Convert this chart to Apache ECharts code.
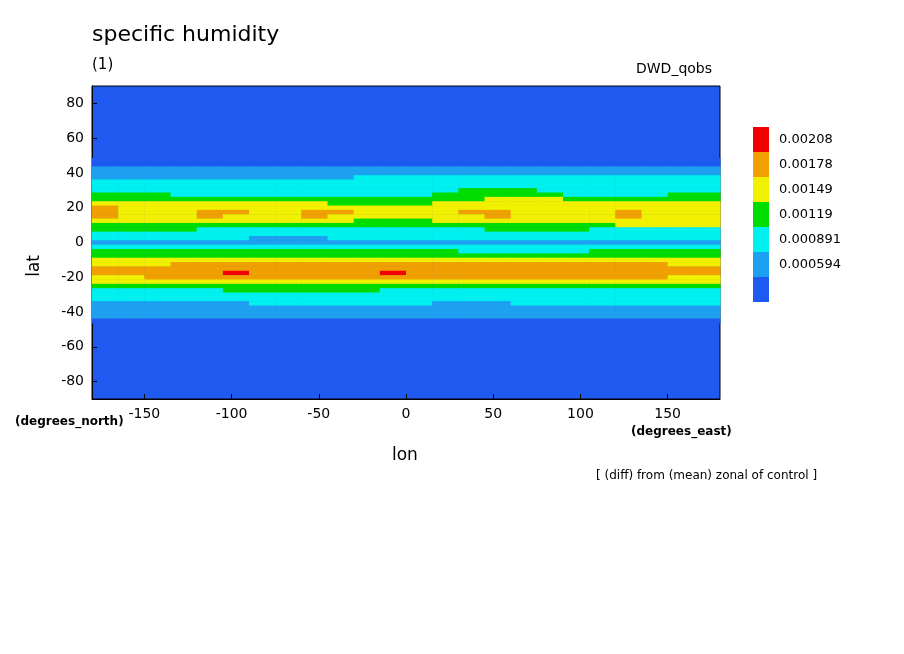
<!DOCTYPE html>
<html><head><meta charset="utf-8">
<script src="https://cdn.jsdelivr.net/npm/echarts@6/dist/echarts.min.js"></script>
<style>html,body{margin:0;background:#fff}#c{width:904px;height:654px}</style>
</head><body><div id="c"></div>
<script>
// level index: 0 <0.000594, 1 .000594-.000891, 2 -.00119, 3 -.00149, 4 -.00178, 5 -.00208, 6 >.00208
const levelTicks = ['0.000594', '0.000891', '0.00119', '0.00149', '0.00178', '0.00208'];
const levelColors = ['#1e5af0', '#1ea0f0', '#00f0f0', '#00dc00', '#f0f000', '#f0a000', '#f00000'];
const lonStart = -180, lonStep = 15;
const latRows = [47.5, 45, 42.5, 40, 37.5, 35, 32.5, 30, 27.5, 25, 22.5, 20, 17.5, 15, 12.5, 10, 7.5, 5, 2.5, 0,
  -2.5, -5, -7.5, -10, -12.5, -15, -17.5, -20, -22.5, -25, -27.5, -30, -32.5, -35, -37.5, -40, -42.5, -45];
const bandRows = [
  '000000000000000000000000',
  '000000000000000000000000',
  '111111111111111111111111',
  '111111111111111111111111',
  '111111111122222222222222',
  '222222222222222222222222',
  '222222222222222222222222',
  '222222222222223332222222',
  '333222222222233333222233',
  '333333333333333444333333',
  '444444444333344444444444',
  '544444444444444444444444',
  '544455445544445544445444',
  '544454445444444544445444',
  '444444444433344444444444',
  '333333333333333333334444',
  '333322222222222333322222',
  '222222222222222222222222',
  '222222111222222222222222',
  '111111111111111111111111',
  '222222222222222222222222',
  '333333333333332222233333',
  '333333333333333333333333',
  '444444444444444444444444',
  '444555555555555555555544',
  '555555555555555555555555',
  '555556555556555555555555',
  '445555555555555555555544',
  '444444444444444444444444',
  '333333333333333333333333',
  '222223333332222222222222',
  '222222222222222222222222',
  '222222222222222222222222',
  '111111222222211122222222',
  '111111111111111111111111',
  '111111111111111111111111',
  '111111111111111111111111',
  '000000000000000000000000'
];

const cells = [];
latRows.forEach((lat, r) => {
  bandRows[r].split('').forEach((ch, c) => cells.push([lonStart + c * lonStep, lat, +ch]));
});

const chart = echarts.init(document.getElementById('c'));
const axisText = { color: '#000', fontSize: 14, fontFamily: 'DejaVu Sans' };
chart.setOption({
  animation: false,
  grid: { left: 92, top: 86, width: 628, height: 313, show: true, backgroundColor: levelColors[0], borderColor: '#000', borderWidth: 1 },
  xAxis: {
    type: 'value', min: -180, max: 180,
    axisLine: { onZero: false, lineStyle: { color: '#000' } }, splitLine: { show: false },
    axisTick: { inside: true, customValues: [-150, -100, -50, 0, 50, 100, 150] },
    axisLabel: Object.assign({ customValues: [-150, -100, -50, 0, 50, 100, 150] }, axisText)
  },
  yAxis: {
    type: 'value', min: -90, max: 90,
    axisLine: { onZero: false, lineStyle: { color: '#000' } }, splitLine: { show: false },
    axisTick: { inside: true, customValues: [-80, -60, -40, -20, 0, 20, 40, 60, 80] },
    axisLabel: Object.assign({ customValues: [-80, -60, -40, -20, 0, 20, 40, 60, 80] }, axisText)
  },
  visualMap: {
    type: 'piecewise', dimension: 2, seriesIndex: 0,
    left: 738, top: 112, itemWidth: 16, itemHeight: 25, itemGap: 0, align: 'left',
    itemSymbol: 'rect', selectedMode: false,
    textStyle: { color: '#000', fontSize: 13, fontFamily: 'DejaVu Sans' },
    pieces: levelColors.map((col, i) => ({ value: i, color: col, label: i === 0 ? ' ' : levelTicks[i - 1] })).reverse()
  },
  series: [{
    type: 'custom',
    data: cells,
    renderItem: function (params, api) {
      const p0 = api.coord([api.value(0), api.value(1) + 1.25]);
      const p1 = api.coord([api.value(0) + lonStep, api.value(1) - 1.25]);
      return { type: 'rect', shape: { x: p0[0], y: p0[1], width: p1[0] - p0[0] + 0.5, height: p1[1] - p0[1] + 0.5 },
        style: { fill: api.visual('color') } };
    }
  }],
  graphic: [
    { type: 'text', left: 92, top: 24, style: { text: 'specific humidity', fontSize: 22, fontFamily: 'DejaVu Sans', fill: '#000' } },
    { type: 'text', left: 92, top: 58, style: { text: '(1)', fontSize: 15, fontFamily: 'DejaVu Sans', fill: '#000' } },
    { type: 'text', left: 636, top: 62, style: { text: 'DWD_qobs', fontSize: 14, fontFamily: 'DejaVu Sans', fill: '#000' } },
    { type: 'text', left: 26, top: 255, rotation: Math.PI / 2, style: { text: 'lat', fontSize: 17, fontFamily: 'DejaVu Sans', fill: '#000' } },
    { type: 'text', left: 392, top: 447, style: { text: 'lon', fontSize: 17, fontFamily: 'DejaVu Sans', fill: '#000' } },
    { type: 'text', left: 15, top: 416, style: { text: '(degrees_north)', fontSize: 12, fontWeight: 'bold', fontFamily: 'DejaVu Sans', fill: '#000' } },
    { type: 'text', left: 631, top: 426, style: { text: '(degrees_east)', fontSize: 12, fontWeight: 'bold', fontFamily: 'DejaVu Sans', fill: '#000' } },
    { type: 'text', left: 596, top: 470, style: { text: '[ (diff) from (mean) zonal of control ]', fontSize: 12, fontFamily: 'DejaVu Sans', fill: '#000' } }
  ]
});
</script></body></html>
